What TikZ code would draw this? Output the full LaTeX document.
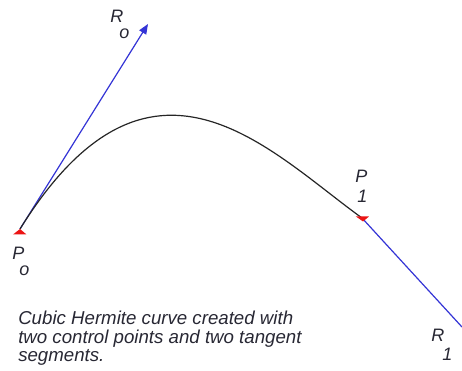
\documentclass[tikz,border=0pt]{standalone}
\usepackage{fontspec}
\setsansfont{Liberation Sans}
\usepackage{tikz}
\usetikzlibrary{arrows.meta,calc}
\definecolor{tanblue}{RGB}{52,52,214}
\definecolor{mrkred}{RGB}{236,20,20}
\definecolor{txtgray}{RGB}{40,40,52}
\tikzset{
  curv/.style={draw=black!85,line width=0.9pt},
  tang/.style={draw=tanblue,line width=0.9pt},
  mrk/.style={fill=mrkred,draw=none},
  lbl/.style={inner sep=0pt,text=txtgray,font=\sffamily\itshape\fontsize{13.5}{14}\selectfont},
  capt/.style={inner sep=0pt,text=txtgray,align=left,font=\sffamily\itshape\fontsize{14}{13.9}\selectfont},
  arr/.style={-{Triangle[length=7.5pt,width=6pt]}},
}
\begin{document}
\begin{tikzpicture}[x=0.75pt,y=-0.75pt]
  \useasboundingbox[fill=white] (0,0) rectangle (462,371);
  % end points, tangent tips and bezier handles
  \coordinate (p0) at (20,229);
  \coordinate (p1) at (362,218);
  \coordinate (r0) at (148,24);
  \coordinate (r1) at (462,327);
  \coordinate (c1) at (150,20);
  \coordinate (c2) at (268,150);
  % tangent segments
  \draw[tang,arr] (p0) -- (r0);
  \draw[tang] (p1) -- (r1);
  % hermite curve
  \draw[curv] (p0) .. controls (c1) and (c2) .. (p1);
  % point markers
  \fill[mrk] (p0) ++(-7,5.5) -- ++(13.5,0) -- (p0) -- cycle;
  \fill[mrk] (p1) ++(-6,-1.5) -- ++(13,0) -- ++(-6,5) -- cycle;
  % labels
  \node[lbl,anchor=base west] (lr0) at (110,22) {R};
  \node[lbl,anchor=base west] (lr0s) at (119,38) {o};
  \node[lbl,anchor=base west] (lp0) at (12,260) {P};
  \node[lbl,anchor=base west] (lp0s) at (19,276) {o};
  \node[lbl,anchor=base west] (lp1) at (355,183) {P};
  \node[lbl,anchor=base west] (lp1s) at (357,203) {1};
  \node[lbl,anchor=base west] (lr1) at (431,342) {R};
  \node[lbl,anchor=base west] (lr1s) at (442,360) {1};
  \node[capt,anchor=north west] (cap) at (18,311)
       {Cubic Hermite curve created with\\two control points and two tangent\\segments.};
\end{tikzpicture}
\end{document}
